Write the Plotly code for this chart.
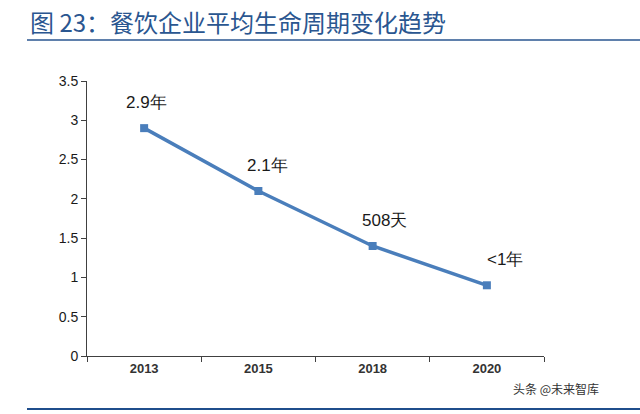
import plotly.graph_objects as go

years = ["2013", "2015", "2018", "2020"]
lifespan = [2.9, 2.1, 1.4, 0.9]
point_labels = ["2.9年", "2.1年", "508天", "<1年"]
y_ticks = [0, 0.5, 1, 1.5, 2, 2.5, 3, 3.5]
y_tick_text = ["0", "0.5", "1", "1.5", "2", "2.5", "3", "3.5"]

title_text = "图 23：餐饮企业平均生命周期变化趋势"
watermark = "头条 @未来智库"

label_xshift = [2, 9, 12, 18]

fig = go.Figure()
fig.add_trace(go.Scatter(
    x=years, y=lifespan, mode="lines+markers",
    line=dict(color="#4A7EBB", width=3.5),
    marker=dict(symbol="square", size=8, color="#4A7EBB"),
    hoverinfo="skip", showlegend=False,
))

annotations = []
for i, (yv, t, dx) in enumerate(zip(lifespan, point_labels, label_xshift)):
    annotations.append(dict(x=i, y=yv, xref="x", yref="y",
                            text=t.replace("<", "&lt;"), showarrow=False,
                            xshift=dx, yshift=26,
                            font=dict(family="Liberation Sans, Arial", size=17, color="#1a1a1a")))

annotations += [
    dict(text=title_text, xref="paper", yref="paper", x=(28 - 87) / 457, y=1 + 59 / 275,
         xanchor="left", yanchor="middle", showarrow=False,
         font=dict(family="Noto Sans CJK SC", size=24, color="#2A5690")),
    dict(text=watermark, xref="paper", yref="paper", x=1 + 57 / 457, y=-32 / 275,
         xanchor="right", yanchor="middle", showarrow=False,
         font=dict(family="Noto Sans CJK SC", size=12, color="#333333")),
]

fig.update_xaxes(
    type="category", range=[-0.5, 3.5], showline=True, linecolor="#404040", linewidth=1,
    ticks="outside", ticklen=5, tickcolor="#404040", tickson="boundaries",
    showgrid=False, zeroline=False,
    tickfont=dict(family="Liberation Sans, Arial", size=13, color="#333333", weight="bold"),
)
fig.update_yaxes(
    range=[0, 3.5], tickvals=y_ticks, ticktext=y_tick_text,
    showline=True, linecolor="#404040", linewidth=1,
    ticks="outside", ticklen=5, tickcolor="#404040",
    showgrid=False, zeroline=False,
    tickfont=dict(family="Liberation Sans, Arial", size=14, color="#1a1a1a"),
)

fig.update_layout(
    width=640, height=414,
    margin=dict(l=87, r=96, t=81, b=58),
    paper_bgcolor="white", plot_bgcolor="white",
    annotations=annotations,
    shapes=[
        dict(type="line", xref="paper", yref="paper", x0=-60 / 457, x1=1 + 96 / 457,
             y0=1 + 41 / 275, y1=1 + 41 / 275, line=dict(color="#2A5690", width=1.5)),
        dict(type="line", xref="paper", yref="paper", x0=-60 / 457, x1=1 + 96 / 457,
             y0=-53 / 275, y1=-53 / 275, line=dict(color="#1F4E8C", width=2)),
    ],
)

fig.write_html("out.html")
